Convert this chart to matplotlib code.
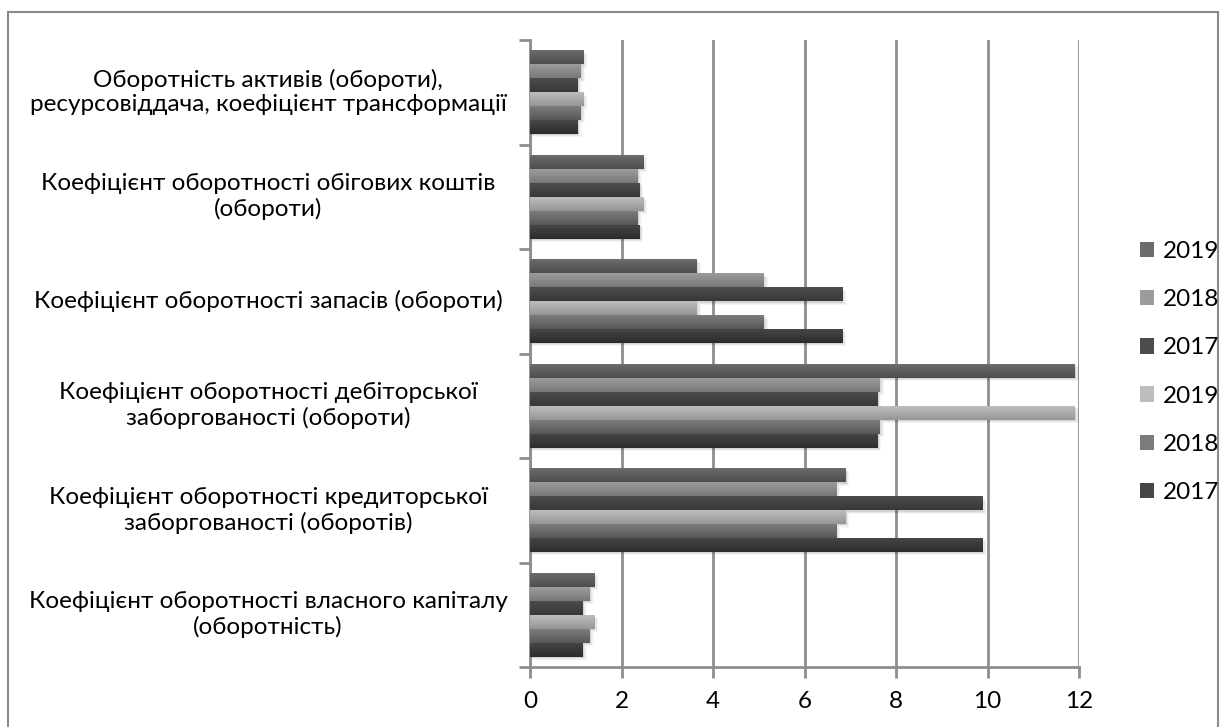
import numpy as np
import matplotlib
matplotlib.use("Agg")
import matplotlib.pyplot as plt
from matplotlib.patches import Patch, Rectangle
from matplotlib.colors import LinearSegmentedColormap
from matplotlib.transforms import blended_transform_factory


# -----------------------------
# Data
# -----------------------------
categories = [
    "Оборотність активів (обороти),\nресурсовіддача, коефіцієнт трансформації",
    "Коефіцієнт оборотності обігових коштів\n(обороти)",
    "Коефіцієнт оборотності запасів (обороти)",
    "Коефіцієнт оборотності дебіторської\nзаборгованості (обороти)",
    "Коефіцієнт оборотності кредиторської\nзаборгованості (оборотів)",
    "Коефіцієнт оборотності власного капіталу\n(оборотність)",
]

v2019 = [1.16, 2.47, 3.65, 11.91, 6.89, 1.40]
v2018 = [1.11, 2.35, 5.11, 7.65, 6.69, 1.30]
v2017 = [1.04, 2.39, 6.82, 7.59, 9.88, 1.15]

series_labels = ["2019", "2018", "2017", "2019", "2018", "2017"]
series_values = [v2019, v2018, v2017, v2019, v2018, v2017]

# top / bottom colours of each bar gradient
series_colors = [
    ("#6c6c6c", "#4e4e4e"),
    ("#9c9c9c", "#787878"),
    ("#4c4c4c", "#383838"),
    ("#bdbdbd", "#969696"),
    ("#7c7c7c", "#585858"),
    ("#464646", "#2c2c2c"),
]

xticks = [0, 2, 4, 6, 8, 10, 12]

FONT = "Lato"
FS = 17.5
GRID = "#8e8e8e"

W, H = 1227, 727


def main():
    fig = plt.figure(figsize=(W / 100, H / 100), dpi=100)
    fig.patch.set_facecolor("white")

    # outer frame of the chart
    fig.patches.append(Rectangle((8 / W, -0.01), (1218 - 8) / W, 1.01 - 12 / H,
                                 transform=fig.transFigure, fill=False,
                                 edgecolor="#8a8a8a", linewidth=1.5))

    ax = fig.add_axes([530 / W, 1 - 667 / H, (1079 - 530) / W, (667 - 40) / H])

    n_cat = len(categories)
    n_ser = len(series_values)
    band_fill = 0.8
    h = band_fill / n_ser

    for i in range(n_cat):
        band_top = n_cat - i
        top0 = band_top - (1 - band_fill) / 2
        for j in range(n_ser):
            v = series_values[j][i]
            y1 = top0 - j * h
            y0 = y1 - h
            # soft shadow
            for k, a in enumerate([0.08, 0.06, 0.04]):
                dx = 0.03 + 0.03 * k
                dy = 0.012 + 0.01 * k
                ax.add_patch(Rectangle((0, y0 - dy), v + dx, h, facecolor="black",
                                       edgecolor="none", alpha=a, zorder=2))
            c_top, c_bot = series_colors[j]
            cmap = LinearSegmentedColormap.from_list("g", [c_bot, c_top])
            grad = np.linspace(0, 1, 32).reshape(-1, 1)
            ax.imshow(grad, cmap=cmap, origin="lower", aspect="auto",
                      extent=[0, v, y0, y1], zorder=3, interpolation="bilinear")

    ax.set_xlim(0, 12)
    ax.set_ylim(0, n_cat)

    ax.set_xticks(xticks)
    ax.set_xticklabels([str(t) for t in xticks], fontsize=FS, family=FONT)
    ax.set_yticks(range(n_cat + 1))
    ax.set_yticklabels([])

    ax.grid(axis="x", color=GRID, linewidth=2, zorder=1)
    ax.set_axisbelow(True)
    for s in ["top", "right"]:
        ax.spines[s].set_visible(False)
    for s in ["left", "bottom"]:
        ax.spines[s].set_color(GRID)
        ax.spines[s].set_linewidth(2)
    ax.tick_params(axis="both", color=GRID, width=2, length=8)
    ax.tick_params(axis="x", pad=9)

    # category labels, centred in the left margin
    tr = blended_transform_factory(fig.transFigure, ax.transData)
    for i, name in enumerate(categories):
        fig.text(268 / W, n_cat - i - 0.5, name, transform=tr, ha="center",
                 va="center", fontsize=FS, family=FONT, linespacing=1.2)

    handles = [Patch(facecolor=c[0], edgecolor="none") for c in series_colors]
    fig.legend(handles, series_labels, loc="center left",
               bbox_to_anchor=(1118 / W, 1 - 372 / H), frameon=False,
               prop={"family": FONT, "size": FS}, handlelength=0.6,
               handleheight=0.6, handletextpad=0.35, labelspacing=1.12)

    fig.savefig("out.png", dpi=100, facecolor="white")
    plt.close(fig)


if __name__ == "__main__":
    main()
